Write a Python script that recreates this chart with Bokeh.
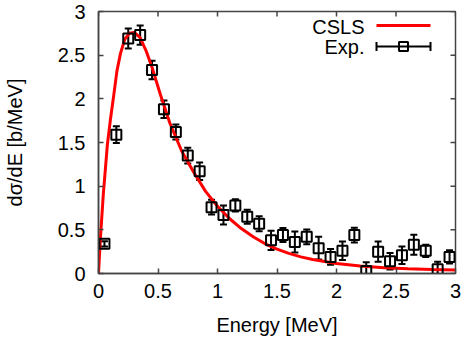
from bokeh.plotting import figure
from bokeh.models import (Range1d, FixedTicker, Whisker, TeeHead,
                          ColumnDataSource, Label, Arrow, BoxAnnotation)
from bokeh.embed import file_html
from bokeh.resources import INLINE

# ---- data ----
fit_energy = [0.0, 0.015, 0.04, 0.075, 0.10, 0.13, 0.155, 0.185, 0.22, 0.26, 0.30,
              0.35, 0.40, 0.45, 0.52, 0.60, 0.70, 0.80, 0.90, 1.0, 1.1, 1.2, 1.3,
              1.4, 1.5, 1.6, 1.7, 1.8, 2.0, 2.2, 2.4, 2.6, 2.8, 3.0]
fit_xs = [0.0, 0.38, 0.90, 1.48, 1.76, 2.06, 2.32, 2.52, 2.68, 2.75, 2.76,
          2.70, 2.55, 2.36, 2.05, 1.72, 1.40, 1.16, 0.94, 0.77, 0.63, 0.515, 0.42,
          0.34, 0.28, 0.23, 0.19, 0.16, 0.115, 0.085, 0.065, 0.053, 0.045, 0.04]

exp_energy = [0.05, 0.15, 0.25, 0.35, 0.45, 0.55, 0.65, 0.75, 0.85, 0.95,
              1.05, 1.15, 1.25, 1.35, 1.45, 1.55, 1.65, 1.75, 1.85, 1.95,
              2.05, 2.15, 2.25, 2.35, 2.45, 2.55, 2.65, 2.75, 2.85, 2.95]
exp_xs = [0.34, 1.59, 2.69, 2.73, 2.33, 1.88, 1.62, 1.35, 1.17, 0.76,
          0.67, 0.78, 0.65, 0.57, 0.38, 0.44, 0.36, 0.42, 0.29, 0.19,
          0.26, 0.44, 0.03, 0.25, 0.14, 0.21, 0.33, 0.26, 0.05, 0.19]
exp_err = [0.03, 0.095, 0.115, 0.11, 0.105, 0.10, 0.085, 0.09, 0.10, 0.085,
           0.11, 0.07, 0.08, 0.085, 0.11, 0.08, 0.12, 0.085, 0.13, 0.09,
           0.105, 0.085, 0.10, 0.115, 0.095, 0.10, 0.115, 0.07, 0.085, 0.075]

x_ticks = [0, 0.5, 1, 1.5, 2, 2.5, 3]
x_tick_labels = ["0", "0.5", "1", "1.5", "2", "2.5", "3"]
y_ticks = [0, 0.5, 1, 1.5, 2, 2.5, 3]
y_tick_labels = ["0", "0.5", "1", "1.5", "2", "2.5", "3"]

series_names = ["CSLS", "Exp."]
x_title = "Energy [MeV]"
y_title = "dσ/dE [b/MeV]"

# ---- styling / layout ----
FONT = "Liberation Sans"
FS = "20px"
AXC = "#444444"
TICK_PX = 5

BL, BR, BT, BB = 97, 8, 11, 67
FW, FH = 357, 262

p = figure(frame_width=FW, frame_height=FH,
           x_range=Range1d(x_ticks[0], x_ticks[-1]),
           y_range=Range1d(y_ticks[0], y_ticks[-1]),
           output_backend="svg", toolbar_location=None,
           min_border_left=BL, min_border_right=BR, min_border_top=BT,
           min_border_bottom=BB)
p.grid.visible = False
p.outline_line_color = AXC
p.outline_line_width = 1.5
p.background_fill_color = "white"
p.border_fill_color = "white"


def style_axis(ax, ticks, labels):
    ax.ticker = FixedTicker(ticks=ticks)
    ax.major_label_overrides = {t: l for t, l in zip(ticks, labels)}
    ax.axis_line_color = AXC
    ax.axis_line_width = 1.5
    ax.major_tick_line_color = AXC
    ax.major_tick_line_width = 1.5
    ax.major_tick_in = TICK_PX
    ax.major_tick_out = 0
    ax.minor_tick_line_color = None
    ax.major_label_text_font = FONT
    ax.major_label_text_font_size = FS
    ax.major_label_text_color = "black"
    ax.axis_label_text_font = FONT
    ax.axis_label_text_font_size = FS
    ax.axis_label_text_font_style = "normal"
    ax.axis_label_text_color = "black"


xa = p.xaxis[0]
style_axis(xa, x_ticks, x_tick_labels)
xa.axis_label = x_title
xa.major_label_standoff = 10
xa.axis_label_standoff = 13

ya = p.yaxis[0]
style_axis(ya, y_ticks, y_tick_labels)
ya.axis_label = y_title
ya.major_label_standoff = 13
ya.axis_label_standoff = 29

# mirrored inward ticks on the top and right edges (from the tick lists)
x_top = y_ticks[-1]
x_right = x_ticks[-1]
dy = TICK_PX * (y_ticks[-1] - y_ticks[0]) / FH
dx = TICK_PX * (x_ticks[-1] - x_ticks[0]) / FW
p.segment(x0=x_ticks, y0=[x_top] * len(x_ticks), x1=x_ticks,
          y1=[x_top - dy] * len(x_ticks), line_color=AXC, line_width=1.5)
p.segment(x0=[x_right] * len(y_ticks), y0=y_ticks, x1=[x_right - dx] * len(y_ticks),
          y1=y_ticks, line_color=AXC, line_width=1.5)

# ---- curve ----
p.line(fit_energy, fit_xs, line_color="#ff0000", line_width=3)

# ---- experimental points with error bars ----
src = ColumnDataSource(dict(
    x=exp_energy, y=exp_xs,
    upper=[v + e for v, e in zip(exp_xs, exp_err)],
    lower=[v - e for v, e in zip(exp_xs, exp_err)],
))
p.scatter("x", "y", source=src, marker="square", size=10, line_color="black",
          line_width=2, fill_alpha=0)
p.add_layout(Whisker(source=src, base="x", upper="upper", lower="lower",
                     line_color="black", line_width=2,
                     upper_head=TeeHead(size=7, line_color="black", line_width=2),
                     lower_head=TeeHead(size=7, line_color="black", line_width=2)))

# ---- legend (text left, sample right, no box) ----
LEG_TEXT_X = FW - 91
LEG_LINE_X0 = FW - 79
LEG_LINE_X1 = FW - 25
ROW1_Y = FH - 15
ROW2_Y = FH - 35
SQ_X = FW - 52
SQ_HALF = 4.5

p.add_layout(Label(x=LEG_TEXT_X, y=ROW1_Y, x_units="screen", y_units="screen",
                   text=series_names[0], text_align="right", text_baseline="middle",
                   text_font=FONT, text_font_size=FS, text_color="black"))
p.add_layout(Label(x=LEG_TEXT_X, y=ROW2_Y, x_units="screen", y_units="screen",
                   text=series_names[1], text_align="right", text_baseline="middle",
                   text_font=FONT, text_font_size=FS, text_color="black"))
p.add_layout(Arrow(start=None, end=None, x_start=LEG_LINE_X0, y_start=ROW1_Y + 1,
                   x_end=LEG_LINE_X1, y_end=ROW1_Y + 1,
                   start_units="screen", end_units="screen",
                   line_color="#ff0000", line_width=3))
p.add_layout(Arrow(start=TeeHead(size=9, line_color="black", line_width=2),
                   end=TeeHead(size=9, line_color="black", line_width=2),
                   x_start=LEG_LINE_X0, y_start=ROW2_Y,
                   x_end=LEG_LINE_X1, y_end=ROW2_Y,
                   start_units="screen", end_units="screen",
                   line_color="black", line_width=2))
p.add_layout(BoxAnnotation(left=SQ_X - SQ_HALF, right=SQ_X + SQ_HALF,
                           bottom=ROW2_Y - SQ_HALF, top=ROW2_Y + SQ_HALF,
                           left_units="screen", right_units="screen",
                           bottom_units="screen", top_units="screen",
                           fill_alpha=0, line_color="black", line_width=2,
                           line_alpha=1))

open("out.html", "w").write(file_html(p, INLINE))
